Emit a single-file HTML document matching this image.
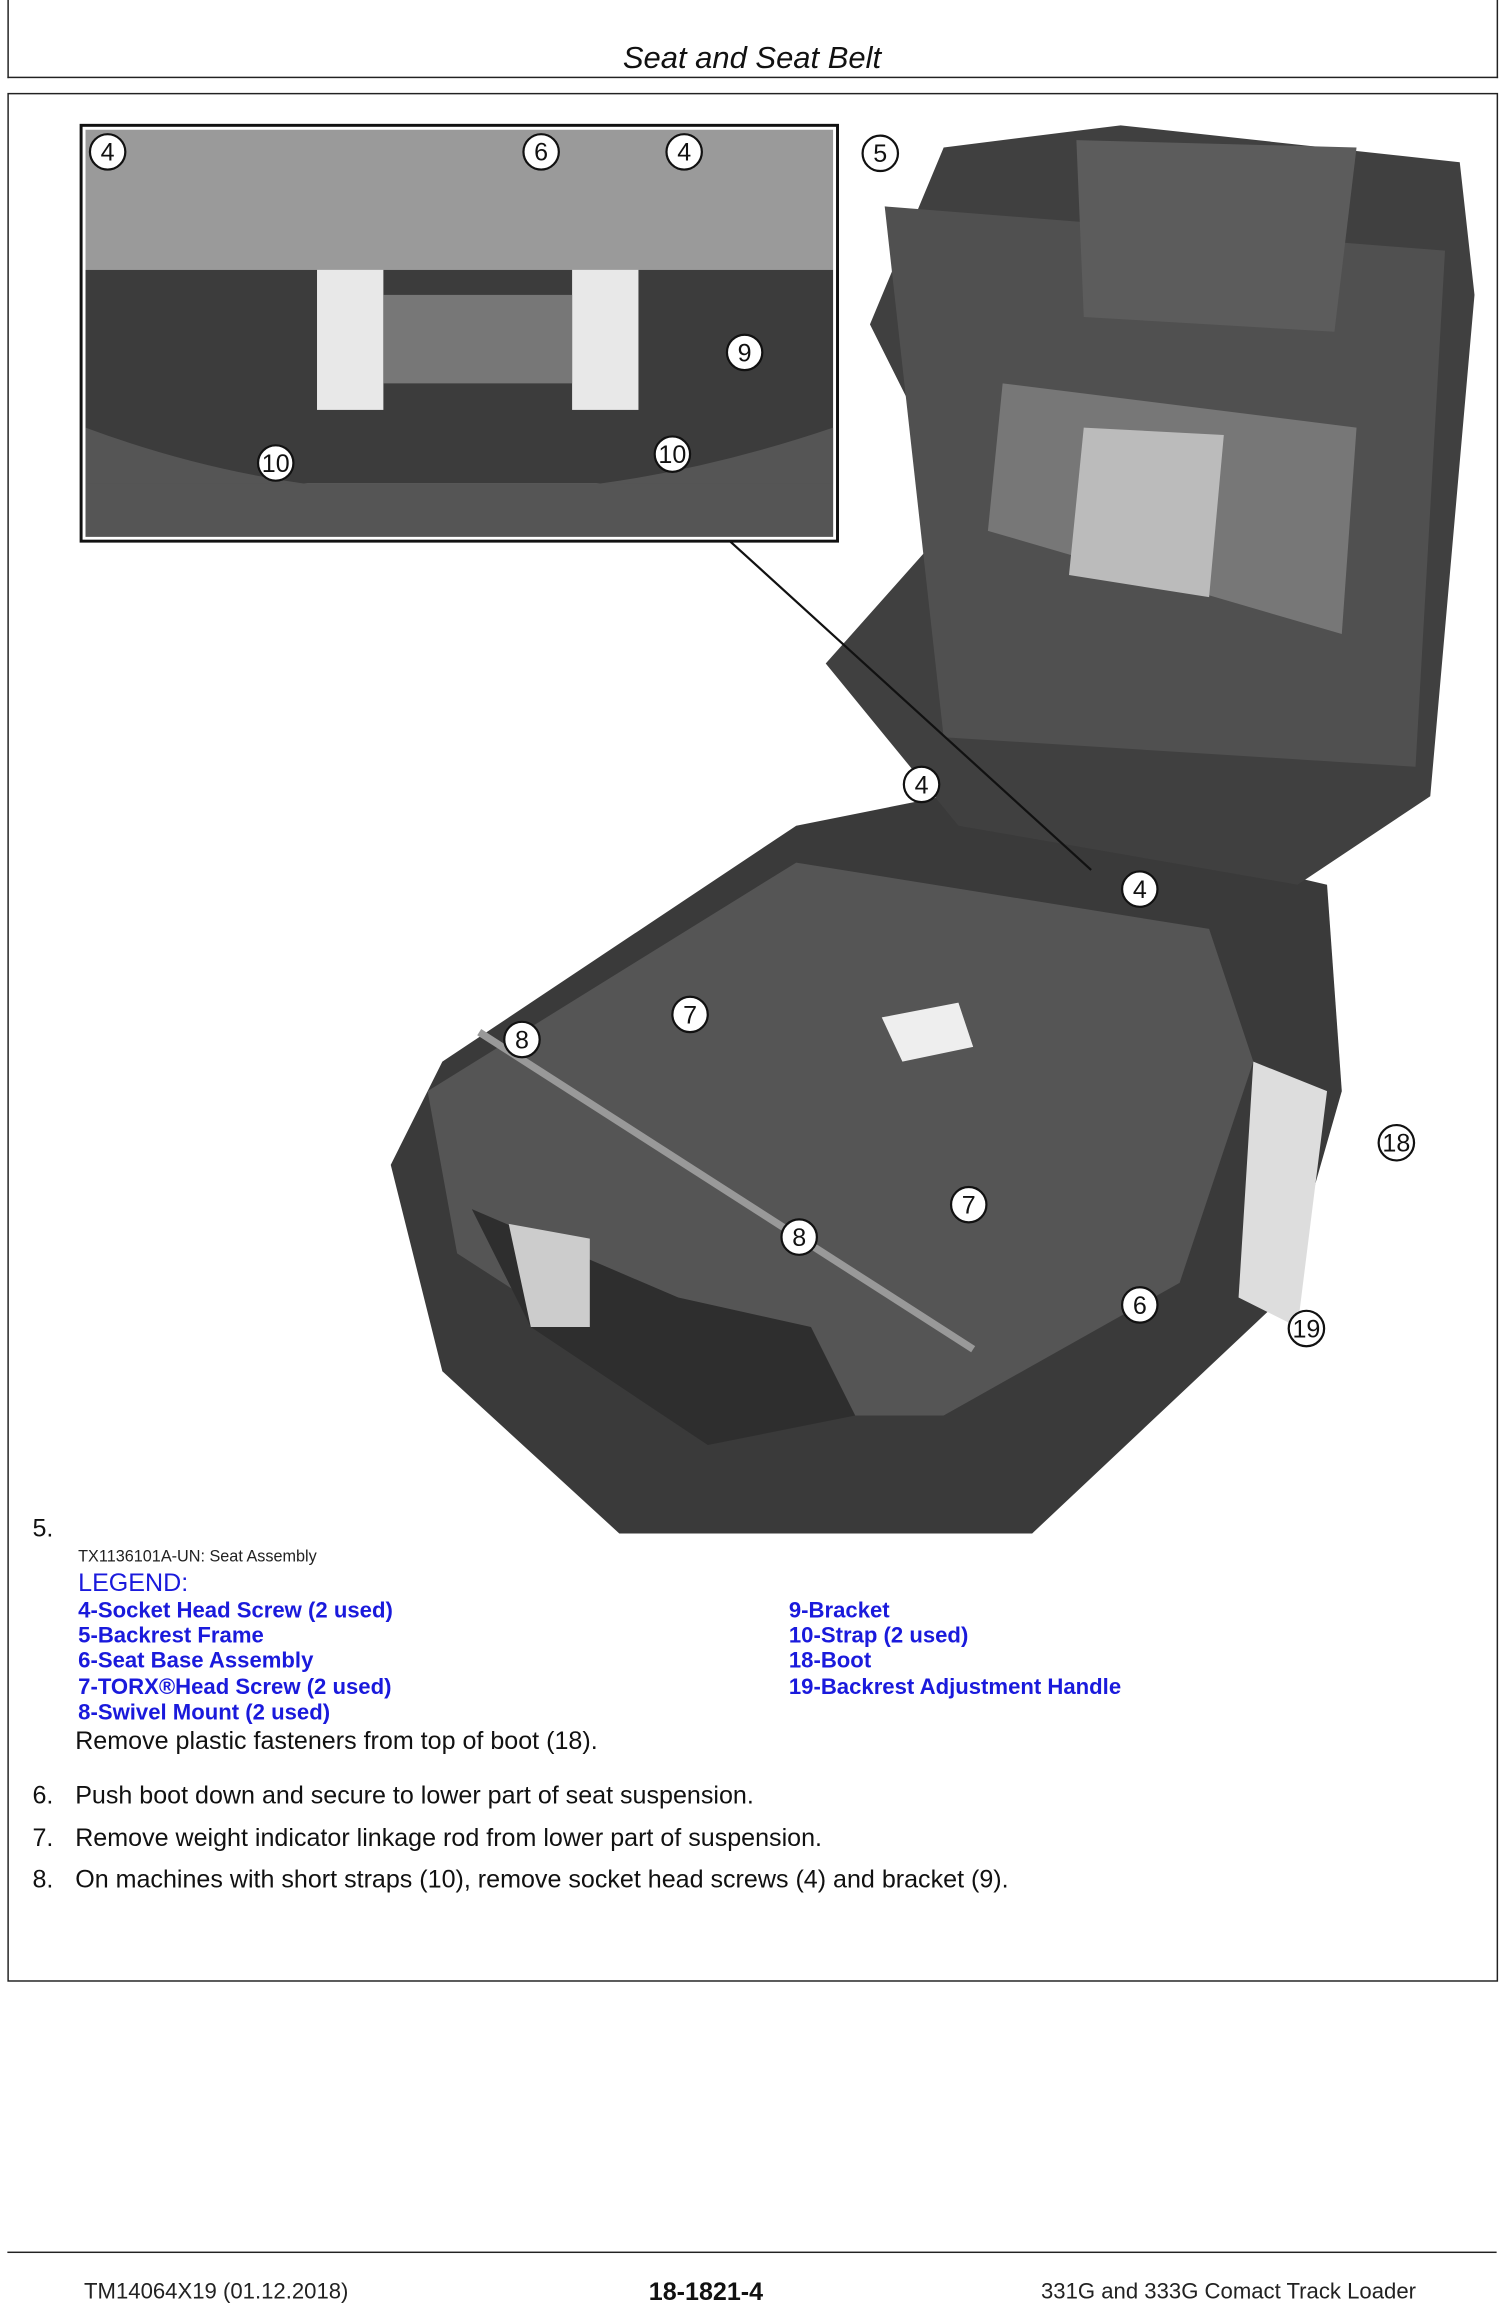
<!DOCTYPE html>
<html><head><meta charset="utf-8"><style>
html,body{margin:0;padding:0;background:#fff;}
body{width:1504px;height:2320px;overflow:hidden;position:relative;font-family:"Liberation Sans",Arial,sans-serif;}
#w{position:absolute;left:0;top:0;width:1020px;height:1573px;transform:scale(1.4745);transform-origin:0 0;}
.a{position:absolute;white-space:nowrap;}
.b{color:#1a1adc;font-weight:bold;font-size:15px;}
.t{font-size:17px;color:#111;}
</style></head><body><div id="w">
<div class="a" style="left:5px;top:-2px;width:1009px;height:54px;border:1.5px solid #222;border-top:none"></div>
<div class="a" style="left:0;width:1020px;top:28px;text-align:center;font-style:italic;font-size:21px;color:#111">Seat and Seat Belt</div>
<div class="a" style="left:5px;top:63px;width:1009px;height:1279px;border:1.5px solid #222"></div>
<svg class="a" style="left:0;top:0" width="1020" height="1050" viewBox="0 0 1020 1050">
<path d="M265 790 L300 720 L540 560 L640 540 L900 600 L910 740 L870 880 L700 1040 L420 1040 L300 930 Z" fill="#3a3a3a"/>
<path d="M290 740 L540 585 L820 630 L850 720 L800 870 L640 960 L480 960 L310 850 Z" fill="#555"/>
<path d="M320 820 L460 880 L550 900 L580 960 L480 980 L360 900 Z" fill="#2e2e2e"/>
<path d="M345 830 L400 840 L400 900 L360 900 Z" fill="#ccc"/>
<path d="M560 450 L640 360 L620 280 L590 220 L640 100 L760 85 L990 110 L1000 200 L970 540 L880 600 L650 560 Z" fill="#404040"/>
<path d="M600 140 L980 170 L960 520 L640 500 Z" fill="#505050"/>
<path d="M680 260 L920 290 L910 430 L670 360 Z" fill="#777"/>
<path d="M735 290 L830 295 L820 405 L725 390 Z" fill="#bbb"/>
<path d="M730 95 L920 100 L905 225 L735 215 Z" fill="#5c5c5c"/>
<path d="M850 720 L900 740 L880 900 L840 880 Z" fill="#ddd"/>
<path d="M598 690 L650 680 L660 710 L612 720 Z" fill="#eee"/>
<line x1="325" y1="700" x2="660" y2="915" stroke="#999" stroke-width="5"/>
<line x1="495" y1="367" x2="740" y2="590" stroke="#111" stroke-width="1.5"/>
<rect x="55" y="85" width="513" height="282" fill="#fff" stroke="#111" stroke-width="2"/>
<rect x="58" y="88" width="507" height="95" fill="#9a9a9a"/>
<rect x="58" y="183" width="507" height="145" fill="#3c3c3c"/>
<path d="M58 290 Q300 380 565 290 L565 364 L58 364 Z" fill="#555"/>
<path d="M58 328 L565 328 L565 364 L58 364 Z" fill="#555"/>
<rect x="215" y="183" width="45" height="95" fill="#e8e8e8"/>
<rect x="388" y="183" width="45" height="95" fill="#e8e8e8"/>
<rect x="260" y="200" width="128" height="60" fill="#777"/>
<g font-family="Liberation Sans,Arial" font-size="17" text-anchor="middle" fill="#111">
<g fill="#fff" stroke="#111" stroke-width="1.5">
<circle cx="73" cy="103" r="12"/><circle cx="367" cy="103" r="12"/><circle cx="464" cy="103" r="12"/>
<circle cx="505" cy="239" r="12"/><circle cx="187" cy="314" r="12"/><circle cx="456" cy="308" r="12"/>
<circle cx="597" cy="104" r="12"/><circle cx="625" cy="532" r="12"/><circle cx="773" cy="603" r="12"/>
<circle cx="468" cy="688" r="12"/><circle cx="354" cy="705" r="12"/><circle cx="947" cy="775" r="12"/>
<circle cx="657" cy="817" r="12"/><circle cx="542" cy="839" r="12"/><circle cx="773" cy="885" r="12"/><circle cx="886" cy="901" r="12"/>
</g>
<text x="73" y="109">4</text><text x="367" y="109">6</text><text x="464" y="109">4</text>
<text x="505" y="245">9</text><text x="187" y="320">10</text><text x="456" y="314">10</text>
<text x="597" y="110">5</text><text x="625" y="538">4</text><text x="773" y="609">4</text>
<text x="468" y="694">7</text><text x="354" y="711">8</text><text x="947" y="781">18</text>
<text x="657" y="823">7</text><text x="542" y="845">8</text><text x="773" y="891">6</text><text x="886" y="907">19</text>
</g>
</svg>
<div class="a t" style="left:22px;top:1027px">5.</div>
<div class="a" style="left:53px;top:1050px;font-size:11px;color:#222">TX1136101A-UN: Seat Assembly</div>
<div class="a" style="left:53px;top:1064px;font-size:17px;color:#1a1adc">LEGEND:</div>
<div class="a b" style="left:53px;top:1084px">4-Socket Head Screw (2 used)</div>
<div class="a b" style="left:53px;top:1101px">5-Backrest Frame</div>
<div class="a b" style="left:53px;top:1118px">6-Seat Base Assembly</div>
<div class="a b" style="left:53px;top:1136px">7-TORX®Head Screw (2 used)</div>
<div class="a b" style="left:53px;top:1153px">8-Swivel Mount (2 used)</div>
<div class="a b" style="left:535px;top:1084px">9-Bracket</div>
<div class="a b" style="left:535px;top:1101px">10-Strap (2 used)</div>
<div class="a b" style="left:535px;top:1118px">18-Boot</div>
<div class="a b" style="left:535px;top:1136px">19-Backrest Adjustment Handle</div>
<div class="a t" style="left:51px;top:1171px">Remove plastic fasteners from top of boot (18).</div>
<div class="a t" style="left:22px;top:1208px">6.</div><div class="a t" style="left:51px;top:1208px">Push boot down and secure to lower part of seat suspension.</div>
<div class="a t" style="left:22px;top:1237px">7.</div><div class="a t" style="left:51px;top:1237px">Remove weight indicator linkage rod from lower part of suspension.</div>
<div class="a t" style="left:22px;top:1265px">8.</div><div class="a t" style="left:51px;top:1265px">On machines with short straps (10), remove socket head screws (4) and bracket (9).</div>
<div class="a" style="left:5px;top:1527px;width:1010px;border-top:1.5px solid #222"></div>
<div class="a" style="left:57px;top:1546px;font-size:15px;color:#222">TM14064X19 (01.12.2018)</div>
<div class="a" style="left:440px;top:1545px;font-size:17px;font-weight:bold;color:#111">18-1821-4</div>
<div class="a" style="left:706px;top:1546px;font-size:15px;color:#222">331G and 333G Comact Track Loader</div>
</div></body></html>
